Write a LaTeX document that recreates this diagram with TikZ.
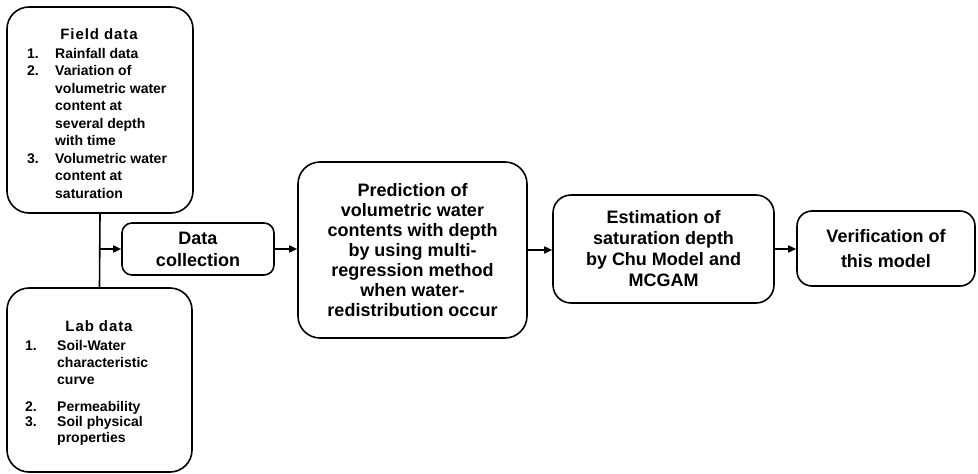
\documentclass[tikz,border=0pt]{standalone}
\usepackage{fontspec}
\setmainfont{Liberation Sans}
\usetikzlibrary{arrows.meta}
\newfontfamily\titlefont[LetterSpace=6]{Liberation Sans}
\tikzset{
  box/.style={draw, line width=1.6pt, rounded corners=#1, inner sep=0pt},
  bigtext/.style={font=\bfseries\fontsize{18}{20}\selectfont, align=center},
  conn/.style={line width=1.6pt},
  arr/.style={line width=1.6pt, -{Triangle[length=8pt,width=7pt]}},
  ttl/.style={font=\titlefont\bfseries\fontsize{15}{17}\selectfont, inner sep=0pt},
  lst/.style={font=\bfseries\fontsize{14}{17.5}\selectfont, inner sep=0pt, anchor=north west},
  lstb/.style={font=\bfseries\fontsize{14}{16}\selectfont, inner sep=0pt, anchor=north west},
}
\begin{document}
\begin{tikzpicture}[x=1pt,y=-1pt]
\useasboundingbox (0,0) rectangle (978,474);
% left boxes
\node[box=22pt, minimum width=186pt, minimum height=206pt] (field) at (100,110) {};
\node[box=22pt, minimum width=185pt, minimum height=184pt] (lab) at (99.5,380) {};
\node[ttl] (fieldtitle) at (99,34) {Field data};
\node[lst] (fieldlist) at (27,45.8) {%
\def\arraystretch{1}\setlength{\tabcolsep}{0pt}%
\begin{tabular}{@{}p{28pt}@{}l@{}}
1. & Rainfall data\\
2. & Variation of\\
   & volumetric water\\
   & content at\\
   & several depth\\
   & with time\\
3. & Volumetric water\\
   & content at\\
   & saturation
\end{tabular}};
\node[ttl] (labtitle) at (99,326) {Lab data};
\node[lstb] (lablist) at (25,338.8) {%
\def\arraystretch{1}\setlength{\tabcolsep}{0pt}%
\begin{tabular}{@{}p{32pt}@{}l@{}}
1. & Soil-Water\\[1pt]
   & characteristic\\[1pt]
   & curve\\[11pt]
2. & Permeability\\[-1pt]
3. & Soil physical\\
   & properties
\end{tabular}};
% main flow boxes
\node[box=10pt, minimum width=152pt, minimum height=52pt, bigtext, font=\bfseries\fontsize{18}{22}\selectfont] (dc) at (198,249) {Data\\collection};
\node[box=22pt, minimum width=229pt, minimum height=176pt, bigtext] (pred) at (412.5,250) {Prediction of\\volumetric water\\contents with depth\\by using multi-\\regression method\\when water-\\redistribution occur};
\node[box=18pt, minimum width=221pt, minimum height=108pt, bigtext, font=\bfseries\fontsize{18}{21}\selectfont] (est) at (663.5,249) {Estimation of\\saturation depth\\by Chu Model and\\MCGAM};
\node[box=15pt, minimum width=178pt, minimum height=75pt, bigtext, font=\bfseries\fontsize{18}{25}\selectfont] (ver) at (886,248.5) {Verification of\\this model};
% connectors
\draw[conn] (field.south) -- (lab.north);
\draw[arr] (field.south |- dc.west) -- (dc.west);
\draw[arr] (dc.east) -- (pred.west |- dc.east);
\draw[arr] (pred.east) -- (est.west |- pred.east);
\draw[arr] (est.east) -- (ver.west |- est.east);
\end{tikzpicture}
\end{document}
